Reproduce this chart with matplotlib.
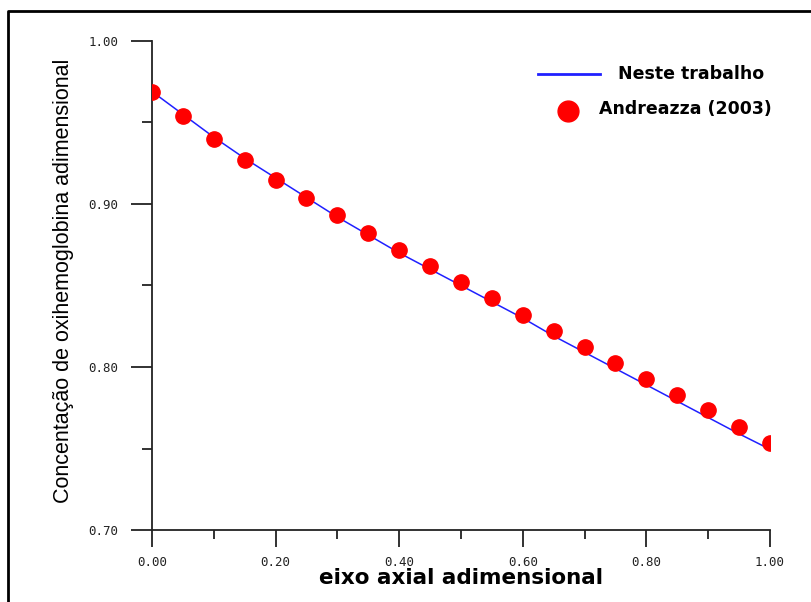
import matplotlib
matplotlib.use("Agg")
import matplotlib.pyplot as plt
from matplotlib.lines import Line2D
from matplotlib.ticker import MultipleLocator

# axial position (dimensionless)
x_axial = [0.00, 0.05, 0.10, 0.15, 0.20, 0.25, 0.30, 0.35, 0.40, 0.45, 0.50,
           0.55, 0.60, 0.65, 0.70, 0.75, 0.80, 0.85, 0.90, 0.95, 1.00]

# model curve ("Neste trabalho")
conc_model = [0.969, 0.955, 0.941, 0.928, 0.916, 0.904, 0.892, 0.881, 0.870, 0.860, 0.850,
              0.840, 0.830, 0.819, 0.809, 0.799, 0.789, 0.779, 0.769, 0.759, 0.7495]

# reference points (Andreazza, 2003)
conc_ref = [0.969, 0.954, 0.940, 0.927, 0.915, 0.9035, 0.893, 0.882, 0.872, 0.862, 0.852,
            0.8425, 0.832, 0.822, 0.812, 0.8026, 0.7924, 0.783, 0.7734, 0.7634, 0.7532]

x_ticks = [0.0, 0.2, 0.4, 0.6, 0.8, 1.0]
y_ticks = [0.70, 0.80, 0.90, 1.00]

line_color = "#2020ff"
dot_color = "#ff0000"

W, H = 812, 602
fig = plt.figure(figsize=(W / 100, H / 100), dpi=100)
ax = fig.add_axes([152 / W, 1 - 530 / H, (770 - 152) / W, (530 - 41) / H])

ax.plot(x_axial, conc_model, color=line_color, lw=1.1, zorder=2)
ax.plot(x_axial, conc_ref, ls="none", marker="o", ms=11, color=dot_color,
        mec=dot_color, zorder=3)

ax.set_xlim(0, 1)
ax.set_ylim(0.70, 1.00)
ax.set_xticks(x_ticks)
ax.set_yticks(y_ticks)
ax.xaxis.set_minor_locator(MultipleLocator(0.1))
ax.yaxis.set_minor_locator(MultipleLocator(0.05))
ax.set_xticklabels([f"{v:.2f}" for v in x_ticks])
ax.set_yticklabels([f"{v:.2f}" for v in y_ticks])

for side in ("top", "right"):
    ax.spines[side].set_visible(False)
for side in ("left", "bottom"):
    ax.spines[side].set_linewidth(1.3)
    ax.spines[side].set_color("#222222")

ax.tick_params(axis="x", which="major", direction="out", length=12, width=1.3, pad=7,
               colors="#222222", labelsize=9)
ax.tick_params(axis="x", which="minor", direction="out", length=6.5, width=1.3, colors="#222222")
ax.tick_params(axis="y", which="major", direction="out", length=15, width=1.3, pad=9,
               colors="#222222", labelsize=9)
ax.tick_params(axis="y", which="minor", direction="out", length=7, width=1.3, colors="#222222")
for lab in ax.get_xticklabels() + ax.get_yticklabels():
    lab.set_family("DejaVu Sans Mono")

ax.set_xlabel("eixo axial adimensional", fontsize=15.5, fontweight="bold",
              family="DejaVu Sans", va="center")
ax.xaxis.set_label_coords(0.5, (530 - 578) / 489)
ax.set_ylabel("Concentação de oxihemoglobina adimensional", fontsize=15.5,
              family="Liberation Sans", va="center")
ax.yaxis.set_label_coords((64 - 152) / 618, 0.51)

# legend, drawn by hand to keep the original's uneven text placement
def fx(px):
    return px / W


def fy(py):
    return 1 - py / H


fig.add_artist(Line2D([fx(538), fx(600)], [fy(74), fy(74)], transform=fig.transFigure,
                      color=line_color, lw=2))
fig.text(fx(618), fy(74), "Neste trabalho", fontsize=12.5, fontweight="bold",
         va="center", ha="left")
fig.add_artist(Line2D([fx(568)], [fy(111)], transform=fig.transFigure, ls="none",
                      marker="o", ms=15, color=dot_color, mec=dot_color))
fig.text(fx(599), fy(109), "Andreazza (2003)", fontsize=12.5, fontweight="bold",
         va="center", ha="left")

# outer frame (top and left edges of the original figure border)
fig.add_artist(Line2D([fx(8), fx(8), 1.0], [0.0, fy(11), fy(11)],
                      transform=fig.transFigure, color="black", lw=2))

fig.savefig("out.png", dpi=100)
